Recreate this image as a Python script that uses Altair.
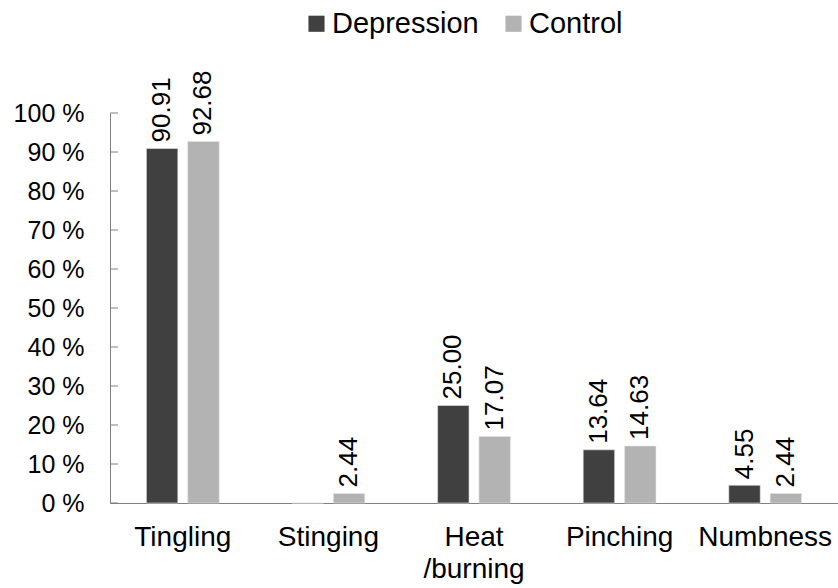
import altair as alt
import pandas as pd

categories = ["Tingling", "Stinging", "Heat\n/burning", "Pinching", "Numbness"]
groups = ["Depression", "Control"]
depression = [90.91, 0.0, 25.00, 13.64, 4.55]
control = [92.68, 2.44, 17.07, 14.63, 2.44]
y_ticks = [0, 10, 20, 30, 40, 50, 60, 70, 80, 90, 100]
colors = ["#404040", "#b3b3b3"]

FONT = "Liberation Sans"

rows = []
for c, d, k in zip(categories, depression, control):
    rows.append({"category": c, "group": "Depression", "value": d})
    rows.append({"category": c, "group": "Control", "value": k})
df = pd.DataFrame(rows)
df_lab = df[df["value"] > 0]
df_ticks = pd.DataFrame({"value": y_ticks})

x_enc = alt.X(
    "category:N",
    sort=categories,
    scale=alt.Scale(paddingInner=0.5, paddingOuter=0.25),
    axis=alt.Axis(
        title=None,
        labelAngle=0,
        labelFont=FONT,
        labelFontSize=28,
        labelColor="black",
        labelPadding=20,
        labelLineHeight=32,
        labelExpr="split(datum.value, '\\n')",
        labelOverlap=False,
        ticks=False,
        domainColor="#808080",
        domainWidth=1,
    ),
)
xo_enc = alt.XOffset("group:N", sort=groups, scale=alt.Scale(paddingInner=0.24, paddingOuter=0))
y_enc = alt.Y(
    "value:Q",
    scale=alt.Scale(domain=[0, 100], nice=False),
    axis=alt.Axis(
        title=None,
        values=y_ticks,
        tickCount=11,
        labelExpr="datum.value + ' %'",
        labelFont=FONT,
        labelFontSize=25,
        labelColor="black",
        labelPadding=26,
        labelOverlap=False,
        ticks=False,
        domainColor="#808080",
        domainWidth=1,
        grid=False,
    ),
)

bars = alt.Chart(df).mark_bar(stroke="#e6e6e6", strokeWidth=0.6).encode(
    x=x_enc,
    xOffset=xo_enc,
    y=y_enc,
    color=alt.Color(
        "group:N",
        sort=groups,
        scale=alt.Scale(domain=groups, range=colors),
        legend=alt.Legend(
            title=None,
            orient="none",
            legendX=192,
            legendY=-104,
            direction="horizontal",
            labelFont=FONT,
            labelFontSize=29,
            labelColor="black",
            symbolType="square",
            symbolSize=260,
            symbolStrokeWidth=0,
            labelOffset=1,
            columnPadding=20,
            padding=0,
        ),
    ),
)

labels = alt.Chart(df_lab).mark_text(
    angle=270, align="left", baseline="middle", dx=6, fontSize=26, font=FONT, color="black"
).encode(
    x=x_enc,
    xOffset=xo_enc,
    y=y_enc,
    text=alt.Text("value:Q", format=".2f"),
)

ticks = alt.Chart(df_ticks).mark_rule(color="#808080", strokeWidth=1).encode(
    y=y_enc,
    x=alt.value(0),
    x2=alt.value(8),
)

chart = (
    alt.layer(bars, labels, ticks)
    .properties(
        width=728,
        height=390,
        autosize=alt.AutoSizeParams(type="none"),
        padding={"left": 110, "top": 113, "right": 0, "bottom": 85},
        background="white",
    )
    .configure_view(stroke=None)
    .configure_axis(labelOverlap=False)
)

chart.save("out.html", embed_options={"renderer": "svg", "actions": False})
